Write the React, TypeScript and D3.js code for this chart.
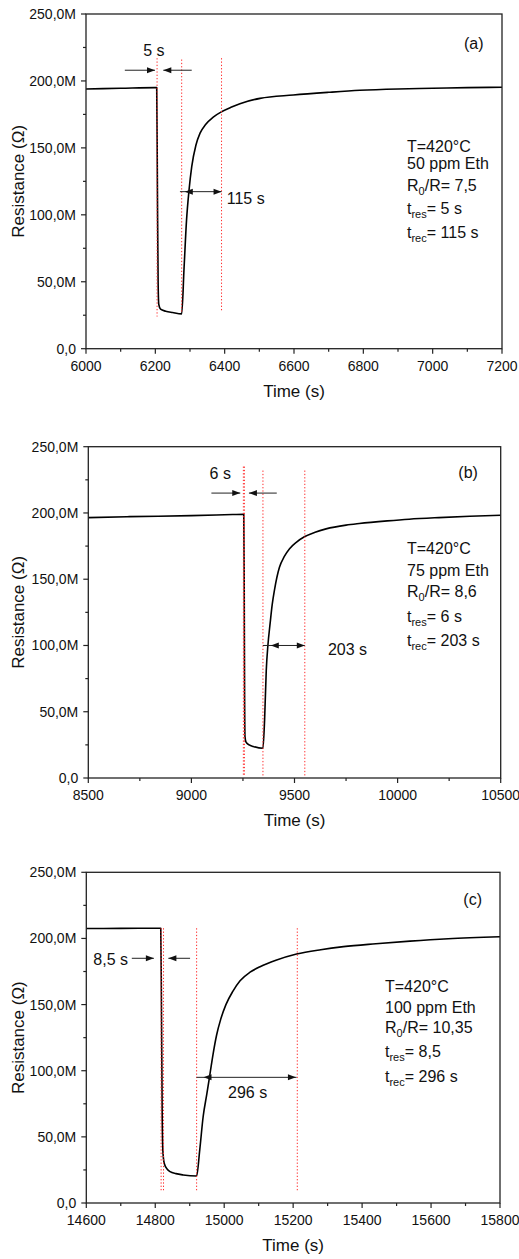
import React from 'react';
import * as d3 from 'd3';

// ---------- DATA ----------
const yTickValues = [0, 50, 100, 150, 200, 250];
const yTickLabels = ['0,0', '50,0M', '100,0M', '150,0M', '200,0M', '250,0M'];
const yMinorValues = [25, 75, 125, 175, 225];

// Panel (a)
const xTicksA = [6000, 6200, 6400, 6600, 6800, 7000, 7200];
const timeA = [6000, 6100, 6200, 6204, 6206, 6208, 6210, 6215, 6230, 6250, 6276, 6283, 6290, 6297, 6305, 6317, 6329, 6345, 6367, 6391, 6420, 6444, 6502, 6598, 6700, 6790, 6900, 7000, 7100, 7200];
const resA = [194, 194.5, 195, 195, 120, 50, 33, 29.5, 28, 27, 26, 61, 96, 118, 136, 152, 161, 167.5, 173, 177, 180.5, 183, 187, 189.5, 191.5, 193, 194, 194.5, 195, 195.3];
const redLinesA = [6205, 6276, 6391];
const redTopA = [217, 216, 217];
const redBottomA = [24, 26.5, 28.4];
const infoA = ['T=420°C', '50 ppm Eth', '7,5', '5 s', '115 s'];

// Panel (b)
const xTicksB = [8500, 9000, 9500, 10000, 10500];
const timeB = [8500, 8700, 9000, 9200, 9254, 9256, 9258, 9260, 9265, 9280, 9300, 9347, 9355, 9363, 9371, 9382, 9392, 9403, 9427, 9450, 9476, 9510, 9548, 9600, 9653, 9750, 9814, 9950, 10056, 10200, 10350, 10500];
const resB = [196.5, 197.2, 198, 198.8, 199, 150, 60, 31, 27, 25, 23.8, 22.4, 44, 81, 100, 117, 131, 142, 159, 167, 173, 178, 182, 185.5, 188, 190.8, 192, 194, 195.3, 196.5, 197.5, 198.3];
const redLinesB = [9252, 9257, 9347, 9550];
const redTopB = [235, 235, 232, 232];
const redBottomB = [2.3, 2.3, 1, 1];
const infoB = ['T=420°C', '75 ppm Eth', '8,6', '6 s', '203 s'];

// Panel (c)
const xTicksC = [14600, 14800, 15000, 15200, 15400, 15600, 15800];
const timeC = [14600, 14700, 14816, 14818, 14820, 14822, 14826, 14835, 14843, 14860, 14881, 14920, 14929, 14939, 14950, 14959, 14968, 14978, 14990, 15005, 15025, 15046, 15075, 15104, 15150, 15210, 15280, 15346, 15440, 15539, 15650, 15800];
const resC = [207.5, 207.6, 207.7, 150, 70, 40, 30, 25.5, 23.7, 22.2, 21.2, 20.4, 40, 65.4, 83, 98, 113, 127, 139, 150, 160, 168, 174.5, 178.6, 183.5, 188.2, 191.5, 193.8, 196, 198, 199.8, 201.3];
const redLinesC = [14817, 14824, 14920, 15212];
const redTopC = [207.7, 207.7, 207.7, 207.7];
const redBottomC = [8.5, 8.5, 8.5, 8.5];
const infoC = ['T=420°C', '100 ppm Eth', '10,35', '8,5', '296 s'];

// ---------- helpers ----------
const FONT = '"Liberation Sans", Arial, Helvetica, sans-serif';

type Arrow = { x1: number; x2: number; y: number; heads: { t: number; dir: number }[] };

type PanelProps = {
  left: number; right: number; top: number; bottom: number;
  xDomain: [number, number]; xTicks: number[]; xMinorStep: number;
  time: number[]; res: number[];
  red: number[]; redTop: number[]; redBottom: number[];
  arrows: Arrow[];
  labels: { text: string; t: number; v: number; anchor: string }[];
  tag: string; tagX: number; tagY: number;
  info: string[]; infoX: number; infoY: number[];
};

function Head({ x, y, dir }: { x: number; y: number; dir: number }) {
  const p = `M${x},${y}L${x - dir * 8},${y - 3}L${x - dir * 8},${y + 3}Z`;
  return <path d={p} fill="#111" />;
}

function Panel(p: PanelProps) {
  const x = d3.scaleLinear().domain(p.xDomain).range([p.left, p.right]);
  const y = d3.scaleLinear().domain([0, 250]).range([p.bottom, p.top]);
  const pts = p.time.map((t, i) => [t, p.res[i]] as [number, number]);
  const line = d3.line<[number, number]>().x(d => x(d[0])).y(d => y(d[1])).curve(d3.curveMonotoneX);
  const xMinor: number[] = [];
  for (let v = p.xDomain[0] + p.xMinorStep; v < p.xDomain[1]; v += p.xMinorStep * 2) xMinor.push(v);
  const sub = { fontSize: 11 } as any;
  return (
    <g fontFamily={FONT} fill="#111">
      <path d={line(pts) || ''} fill="none" stroke="#000" strokeWidth={1.6} strokeLinejoin="round" />
      {p.red.map((t, i) => (
        <line key={'r' + i} x1={x(t)} x2={x(t)} y1={y(p.redTop[i])} y2={y(p.redBottom[i])}
          stroke="#ff2a2a" strokeWidth={1} strokeDasharray="1.3 2" />
      ))}
      <rect x={p.left} y={p.top} width={p.right - p.left} height={p.bottom - p.top} fill="none" stroke="#222" strokeWidth={1.3} />
      {yTickValues.map((v, i) => (
        <g key={'y' + i}>
          <line x1={p.left - 5} x2={p.left} y1={y(v)} y2={y(v)} stroke="#222" strokeWidth={1.2} />
          <text x={p.left - 10} y={y(v) + 5} textAnchor="end" fontSize={14}>{yTickLabels[i]}</text>
        </g>
      ))}
      {yMinorValues.map((v, i) => (
        <line key={'ym' + i} x1={p.left - 3} x2={p.left} y1={y(v)} y2={y(v)} stroke="#222" strokeWidth={1.2} />
      ))}
      {p.xTicks.map((v, i) => (
        <g key={'x' + i}>
          <line x1={x(v)} x2={x(v)} y1={p.bottom} y2={p.bottom + 5} stroke="#222" strokeWidth={1.2} />
          <text x={x(v)} y={p.bottom + 22} textAnchor="middle" fontSize={14}>{String(v)}</text>
        </g>
      ))}
      {xMinor.map((v, i) => (
        <line key={'xm' + i} x1={x(v)} x2={x(v)} y1={p.bottom} y2={p.bottom + 3} stroke="#222" strokeWidth={1.2} />
      ))}
      <text x={(p.left + p.right) / 2} y={p.bottom + 48} textAnchor="middle" fontSize={17}>Time (s)</text>
      <text transform={`translate(24,${(p.top + p.bottom) / 2}) rotate(-90)`} textAnchor="middle" fontSize={17}>Resistance (Ω)</text>
      {p.arrows.map((a, i) => (
        <g key={'a' + i}>
          <line x1={x(a.x1)} x2={x(a.x2)} y1={y(a.y)} y2={y(a.y)} stroke="#222" strokeWidth={1} />
          {a.heads.map((h, j) => <Head key={j} x={x(h.t)} y={y(a.y)} dir={h.dir} />)}
        </g>
      ))}
      {p.labels.map((l, i) => (
        <text key={'l' + i} x={x(l.t)} y={y(l.v)} textAnchor={l.anchor as any} fontSize={16}>{l.text}</text>
      ))}
      <text x={p.tagX} y={p.tagY} fontSize={16}>{p.tag}</text>
      <text x={p.infoX} y={p.infoY[0]} fontSize={16}>{p.info[0]}</text>
      <text x={p.infoX} y={p.infoY[1]} fontSize={16}>{p.info[1]}</text>
      <text x={p.infoX} y={p.infoY[2]} fontSize={16}>
        R<tspan dy={4} style={sub}>0</tspan><tspan dy={-4}>/R= {p.info[2]}</tspan>
      </text>
      <text x={p.infoX} y={p.infoY[3]} fontSize={16}>
        t<tspan dy={4} style={sub}>res</tspan><tspan dy={-4}>= {p.info[3]}</tspan>
      </text>
      <text x={p.infoX} y={p.infoY[4]} fontSize={16}>
        t<tspan dy={4} style={sub}>rec</tspan><tspan dy={-4}>= {p.info[4]}</tspan>
      </text>
    </g>
  );
}

export default function App() {
  return (
    <svg width={519} height={1259} style={{ position: 'absolute', left: 0, top: 0, display: 'block', background: '#fff' }}>
      <rect x={0} y={0} width={519} height={1259} fill="#fff" />
      <Panel
        left={86} right={502} top={14} bottom={348.7}
        xDomain={[6000, 7200]} xTicks={xTicksA} xMinorStep={100}
        time={timeA} res={resA}
        red={redLinesA} redTop={redTopA} redBottom={redBottomA}
        arrows={[
          { x1: 6112, x2: 6199, y: 208, heads: [{ t: 6199, dir: 1 }] },
          { x1: 6305, x2: 6223, y: 208, heads: [{ t: 6223, dir: -1 }] },
          { x1: 6271, x2: 6391, y: 117.3, heads: [{ t: 6391, dir: 1 }, { t: 6285, dir: -1 }] },
        ]}
        labels={[
          { text: '5 s', t: 6196, v: 219, anchor: 'middle' },
          { text: '115 s', t: 6406, v: 108, anchor: 'start' },
        ]}
        tag="(a)" tagX={464} tagY={48.5}
        info={infoA} infoX={407} infoY={[152, 169, 191, 214, 238]}
      />
      <Panel
        left={88.3} right={500.7} top={446.7} bottom={778}
        xDomain={[8500, 10500]} xTicks={xTicksB} xMinorStep={250}
        time={timeB} res={resB}
        red={redLinesB} redTop={redTopB} redBottom={redBottomB}
        arrows={[
          { x1: 9097, x2: 9237, y: 215, heads: [{ t: 9237, dir: 1 }] },
          { x1: 9414, x2: 9279, y: 215, heads: [{ t: 9279, dir: -1 }] },
          { x1: 9347, x2: 9550, y: 100, heads: [{ t: 9550, dir: 1 }, { t: 9385, dir: -1 }] },
        ]}
        labels={[
          { text: '6 s', t: 9140, v: 226, anchor: 'middle' },
          { text: '203 s', t: 9662, v: 92.8, anchor: 'start' },
        ]}
        tag="(b)" tagX={458.3} tagY={478.3}
        info={infoB} infoX={407} infoY={[554, 575.7, 597.3, 621.7, 646]}
      />
      <Panel
        left={86.3} right={500} top={872.3} bottom={1203}
        xDomain={[14600, 15800]} xTicks={xTicksC} xMinorStep={100}
        time={timeC} res={resC}
        red={redLinesC} redTop={redTopC} redBottom={redBottomC}
        arrows={[
          { x1: 14732, x2: 14796, y: 185, heads: [{ t: 14796, dir: 1 }] },
          { x1: 14901, x2: 14838, y: 185, heads: [{ t: 14838, dir: -1 }] },
          { x1: 14920, x2: 15210, y: 95, heads: [{ t: 15208, dir: 1 }, { t: 14940, dir: -1 }] },
        ]}
        labels={[
          { text: '8,5 s', t: 14721, v: 180, anchor: 'end' },
          { text: '296 s', t: 15068, v: 79, anchor: 'middle' },
        ]}
        tag="(c)" tagX={463.3} tagY={905}
        info={infoC} infoX={385} infoY={[991.7, 1012.5, 1033, 1057.3, 1082]}
      />
    </svg>
  );
}
